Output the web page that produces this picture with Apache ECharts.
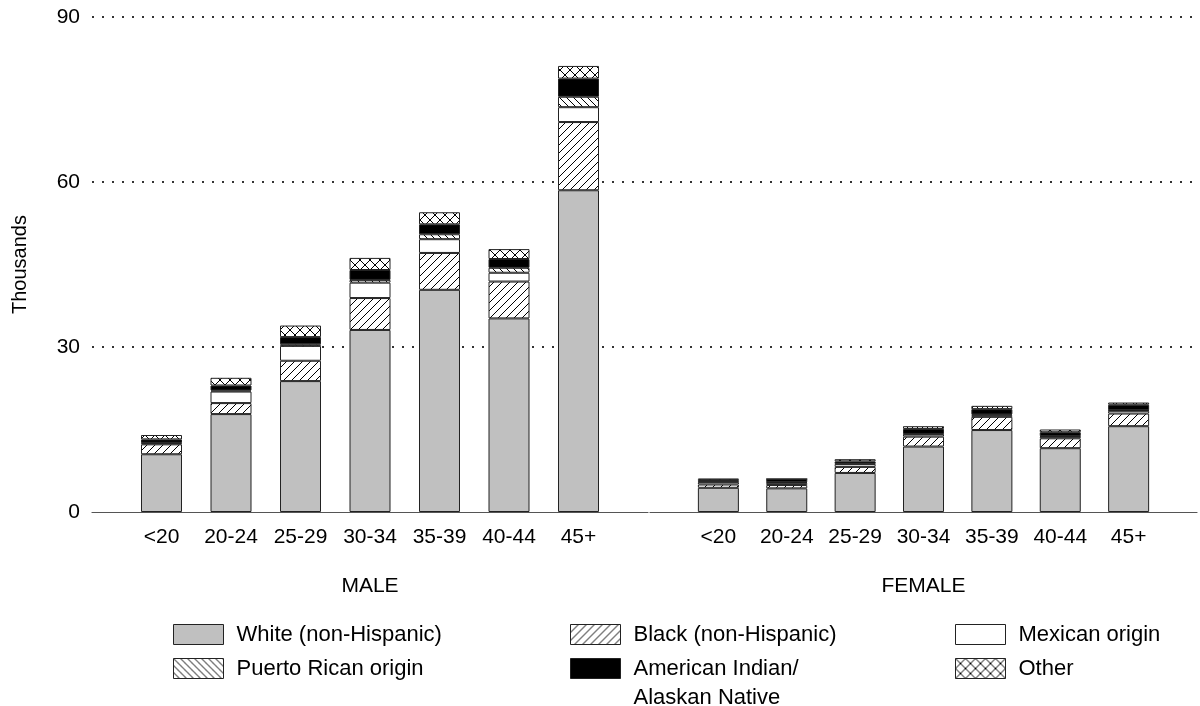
<!DOCTYPE html>
<html>
<head>
<meta charset="utf-8">
<script src="https://cdn.jsdelivr.net/npm/echarts@6/dist/echarts.min.js"></script>
<style>
html,body{margin:0;padding:0;background:#fff;}
#chart{width:1200px;height:706px;}
</style>
</head>
<body>
<div id="chart"></div>
<script>
// ---- data (thousands) ----
const ageGroups = ['<20', '20-24', '25-29', '30-34', '35-39', '40-44', '45+'];
const yTicks = [0, 30, 60, 90];
const groupNames = ['MALE', 'FEMALE'];
const seriesNames = ['White (non-Hispanic)', 'Black (non-Hispanic)', 'Mexican origin',
  'Puerto Rican origin', 'American Indian/Alaskan Native', 'Other'];

const maleWhite       = [10.5, 17.8, 23.8, 33.1, 40.4, 35.2, 58.5];
const maleBlack       = [1.8, 2.0, 3.7, 5.8, 6.7, 6.7, 12.4];
const maleMexican     = [0.2, 2.1, 2.7, 2.8, 2.5, 1.6, 2.7];
const malePuertoRican = [0.1, 0.2, 0.3, 0.5, 0.9, 0.9, 1.9];
const maleAmIndian    = [0.6, 0.9, 1.3, 1.8, 1.8, 1.6, 3.3];
const maleOther       = [0.8, 1.4, 2.1, 2.2, 2.2, 1.8, 2.3];

const femaleWhite       = [4.4, 4.3, 7.1, 11.9, 14.9, 11.6, 15.6];
const femaleBlack       = [0.6, 0.6, 1.1, 1.8, 2.4, 1.8, 2.3];
const femaleMexican     = [0.4, 0.4, 0.5, 0.4, 0.3, 0.3, 0.5];
const femalePuertoRican = [0.1, 0.1, 0.1, 0.1, 0.15, 0.1, 0.1];
const femaleAmIndian    = [0.3, 0.6, 0.4, 0.9, 0.95, 0.7, 1.0];
const femaleOther       = [0.3, 0.0, 0.4, 0.5, 0.6, 0.5, 0.4];

// ---- patterns ----
function makePattern(size, dirs) {
  const c = document.createElement('canvas');
  c.width = size; c.height = size;
  const ctx = c.getContext('2d');
  ctx.fillStyle = '#fff';
  ctx.fillRect(0, 0, size, size);
  ctx.strokeStyle = '#000';
  ctx.lineWidth = 1;
  ctx.beginPath();
  for (const d of dirs) {
    for (let k = -1; k <= 1; k++) {
      if (d === '/') { ctx.moveTo(k * size, size); ctx.lineTo(k * size + size, 0); }
      else { ctx.moveTo(k * size, 0); ctx.lineTo(k * size + size, size); }
    }
  }
  ctx.stroke();
  return { image: c, repeat: 'repeat' };
}
const fills = [
  '#c0c0c0',
  makePattern(8, ['/']),
  '#ffffff',
  makePattern(7, ['\\']),
  '#000000',
  makePattern(10, ['/', '\\'])
];

const pad = a => [null, ...a, null];
const cats = ['', ...ageGroups, ''];
const maleData = [maleWhite, maleBlack, maleMexican, malePuertoRican, maleAmIndian, maleOther];
const femaleData = [femaleWhite, femaleBlack, femaleMexican, femalePuertoRican, femaleAmIndian, femaleOther];

const FONT = "'Liberation Sans', Arial, Helvetica, sans-serif";

const series = [];
[maleData, femaleData].forEach((grp, gi) => {
  grp.forEach((arr, si) => {
    series.push({
      type: 'bar',
      name: seriesNames[si],
      stack: 'g' + gi,
      xAxisIndex: gi,
      yAxisIndex: gi,
      barWidth: 41,
      data: pad(arr),
      itemStyle: { color: fills[si], borderColor: '#222', borderWidth: 1 },
      emphasis: { disabled: true },
      animation: false
    });
  });
});

function xAxis(gi) {
  return {
    type: 'category', gridIndex: gi, data: cats, boundaryGap: false, z: 1,
    axisTick: { show: false },
    axisLine: { show: true, onZero: false, lineStyle: { color: '#555', width: 1.2 } },
    axisLabel: { interval: 0, color: '#000', fontSize: 21, fontFamily: FONT, margin: 15 },
    name: groupNames[gi], nameLocation: 'middle', nameGap: 64,
    nameTextStyle: { color: '#000', fontSize: 21, fontFamily: FONT },
    splitLine: { show: false }
  };
}
function yAxis(gi) {
  return {
    type: 'value', gridIndex: gi, min: 0, max: 90, interval: 30, z: 0,
    axisLine: { show: false }, axisTick: { show: false },
    axisLabel: { show: gi === 0, color: '#000', fontSize: 21, fontFamily: FONT, margin: 12,
      formatter: v => yTicks.includes(v) ? String(v) : '' },
    splitLine: { show: true, showMinLine: false, lineStyle: { color: '#333', width: 2, type: [2, 8] } },
    name: gi === 0 ? 'Thousands' : '', nameLocation: 'middle', nameGap: 62,
    nameTextStyle: { color: '#000', fontSize: 20, fontFamily: FONT }
  };
}

const AMIND = 'American Indian/Alaskan Native';
function legend(left, top, names, lh) {
  return {
    orient: 'vertical', left: left, top: top, height: 200, padding: 0,
    itemWidth: 50, itemHeight: 20, itemGap: 12, icon: 'rect',
    selectedMode: false,
    itemStyle: { borderColor: '#222', borderWidth: 1 },
    textStyle: { color: '#000', fontSize: 22, fontFamily: FONT, lineHeight: lh, padding: [0, 0, 0, 8] },
    formatter: n => n === AMIND ? ' \nAmerican Indian/\nAlaskan Native' : n,
    data: names
  };
}

const chart = echarts.init(document.getElementById('chart'), null, { renderer: 'canvas' });
chart.setOption({
  animation: false,
  backgroundColor: '#fff',
  grid: [
    { left: 92, top: 17, width: 556, height: 495 },
    { left: 650, top: 17, width: 555, height: 495 }
  ],
  xAxis: [xAxis(0), xAxis(1)],
  yAxis: [yAxis(0), yAxis(1)],
  legend: [
    legend(173, 623.5, [seriesNames[0], seriesNames[3]], 22),
    legend(570, 623.5, [seriesNames[1]], 22),
    legend(570, 625, [AMIND], 29),
    legend(955, 623.5, [seriesNames[2], seriesNames[5]], 22)
  ],
  series: series
});
</script>
</body>
</html>
